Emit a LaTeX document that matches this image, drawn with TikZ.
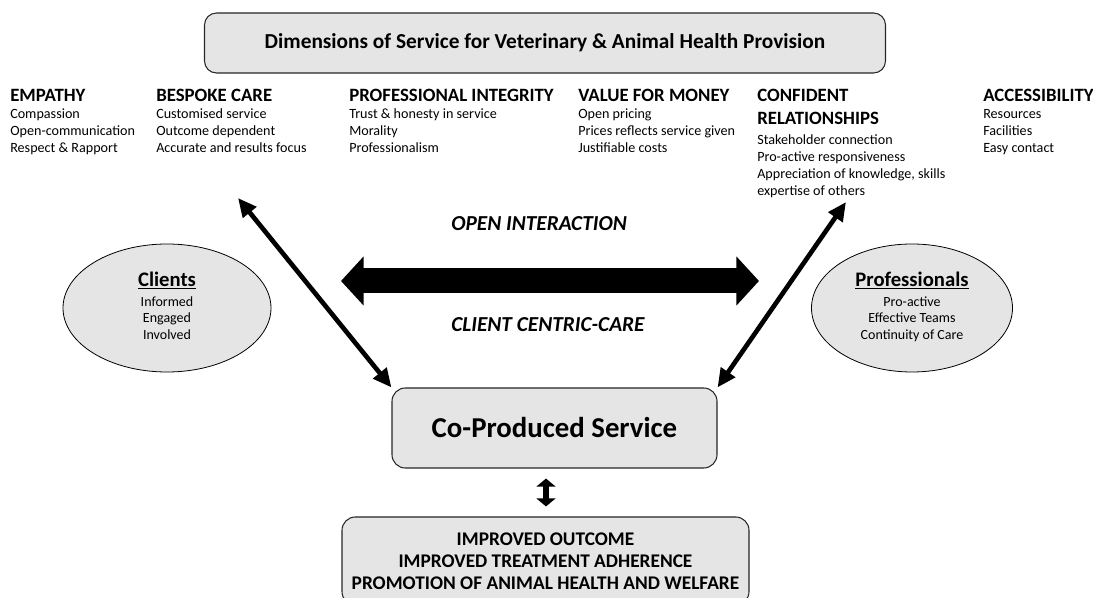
\documentclass[tikz,border=0pt]{standalone}
\usepackage{fontspec}
\setmainfont{Carlito}
\usetikzlibrary{arrows.meta,shapes.geometric}

\tikzset{
  graybox/.style={draw=black!85, fill=black!10, rounded corners=9pt, line width=0.8pt, inner sep=0pt},
  grayoval/.style={ellipse, draw=black, fill=black!10, line width=0.6pt, inner sep=0pt},
  dimhead/.style={anchor=base west, inner sep=0pt, font=\fontsize{14.1}{16.7}\selectfont\bfseries},
  dimitem/.style={anchor=base west, inner sep=0pt, font=\fontsize{10.6}{12.75}\selectfont},
  linkarrow/.style={line width=3.5pt, {Triangle[width=12.5pt,length=14pt]}-{Triangle[width=12.5pt,length=14pt]}},
  flowlabel/.style={anchor=base west, inner sep=0pt, font=\fontsize{16}{16}\selectfont\bfseries\itshape},
}

\begin{document}
\begin{tikzpicture}[x=0.75pt, y=-0.75pt]
\useasboundingbox (0,0) rectangle (1093,598);
\clip (0,0) rectangle (1093,598);

% title
\node[graybox, minimum width=510.75pt, minimum height=45pt,
  font=\fontsize{16}{16}\selectfont\bfseries] (title) at (545,43)
  {Dimensions of Service for Veterinary \& Animal Health Provision};

% the six dimensions
\node[dimhead] (emp) at (10,102) {EMPATHY};
\node[dimitem] (empitems) at (10,119) {\begin{tabular}[t]{@{}l@{}}Compassion\\Open-communication\\Respect \& Rapport\end{tabular}};

\node[dimhead] (besp) at (156,102) {BESPOKE CARE};
\node[dimitem] (bespitems) at (156,119) {\begin{tabular}[t]{@{}l@{}}Customised service\\Outcome dependent\\Accurate and results focus\end{tabular}};

\node[dimhead] (integ) at (349,102) {PROFESSIONAL INTEGRITY};
\node[dimitem] (integitems) at (349,119) {\begin{tabular}[t]{@{}l@{}}Trust \& honesty in service\\Morality\\Professionalism\end{tabular}};

\node[dimhead] (value) at (578,102) {VALUE FOR MONEY};
\node[dimitem] (valueitems) at (578,119) {\begin{tabular}[t]{@{}l@{}}Open pricing\\Prices reflects service given\\Justifiable costs\end{tabular}};

\node[dimhead] (conf) at (757,102) {\begin{tabular}[t]{@{}l@{}}CONFIDENT\\RELATIONSHIPS\end{tabular}};
\node[dimitem] (confitems) at (757,145) {\begin{tabular}[t]{@{}l@{}}Stakeholder connection\\Pro-active responsiveness\\Appreciation of knowledge, skills\\expertise of others\end{tabular}};

\node[dimhead] (access) at (983,102) {ACCESSIBILITY};
\node[dimitem] (accessitems) at (983,119) {\begin{tabular}[t]{@{}l@{}}Resources\\Facilities\\Easy contact\end{tabular}};

% clients and professionals
\node[grayoval, minimum width=156pt, minimum height=96pt, font=\fontsize{10.5}{12.4}\selectfont] (clients) at (167,308)
  {\begin{tabular}{@{}c@{}}{\fontsize{15.5}{15.5}\selectfont\bfseries\underline{Clients}}\\[2.6pt]Informed\\Engaged\\Involved\end{tabular}};
\node[grayoval, minimum width=150.75pt, minimum height=96pt, font=\fontsize{10.5}{12.4}\selectfont] (profs) at (912,308)
  {\begin{tabular}{@{}c@{}}{\fontsize{15.5}{15.5}\selectfont\bfseries\underline{Professionals}}\\[2.6pt]Pro-active\\Effective Teams\\Continuity of Care\end{tabular}};

% interaction
\node[flowlabel] (openint) at (451,231) {OPEN INTERACTION};
\node[flowlabel] (centric) at (451,332) {CLIENT CENTRIC-CARE};
\coordinate (intleft) at (341,281);
\coordinate (intright) at (759,281);
\draw[line width=18.75pt, {Triangle[width=36pt,length=17pt]}-{Triangle[width=36pt,length=17pt]}] (intleft) -- (intright);

% co-produced service and outcome
\node[graybox, minimum width=243.75pt, minimum height=60pt, rounded corners=10pt,
  font=\fontsize{21.6}{21.6}\selectfont\bfseries] (cps) at (554.5,428) {Co-Produced Service};
\node[graybox, minimum width=305.25pt, minimum height=66pt, rounded corners=10pt,
  font=\fontsize{14.5}{16.5}\selectfont\bfseries, align=center] (outcome) at (545.5,561)
  {IMPROVED OUTCOME\\IMPROVED TREATMENT ADHERENCE\\PROMOTION OF ANIMAL HEALTH AND WELFARE};

\coordinate (bespend) at (238,198);
\coordinate (confend) at (846,202);
\draw[linkarrow] (bespend) -- (cps.north west);
\draw[linkarrow] (confend) -- (cps.north east);
\draw[line width=4.5pt, shorten <=7.5pt, shorten >=7.5pt,
  {Triangle[width=14pt,length=6pt]}-{Triangle[width=14pt,length=6pt]}] (cps.south -| 546,0) -- (outcome.north -| 546,0);
\end{tikzpicture}
\end{document}
